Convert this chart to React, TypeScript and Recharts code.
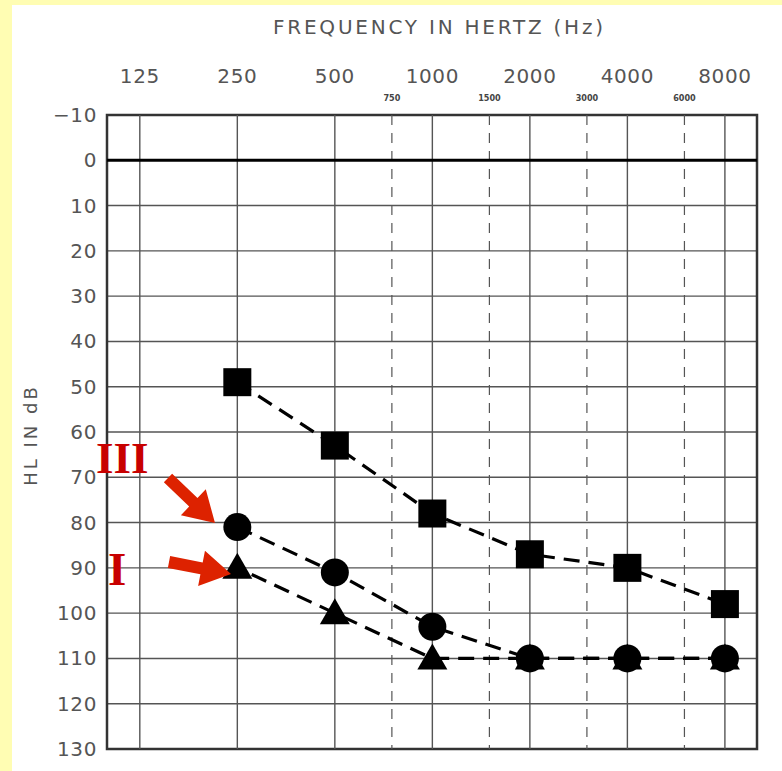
import React from "react";
import {
  LineChart,
  Line,
  XAxis,
  YAxis,
  CartesianGrid,
  ReferenceLine,
  ReferenceArea,
} from "recharts";

// audiogram values (dB HL)
const frequencies = [250, 500, 1000, 2000, 4000, 8000];
const squareValues = [49, 63, 78, 87, 90, 98];
const circleValues = [81, 91, 103, 110, 110, 110];
const triangleValues = [90, 100, 110, 110, 110, 110];

const octaveTicks = [125, 250, 500, 1000, 2000, 4000, 8000];
const halfOctaveTicks = [750, 1500, 3000, 6000];
const dbTicks = [-10, 0, 10, 20, 30, 40, 50, 60, 70, 80, 90, 100, 110, 120, 130];

const data = frequencies.map((f, i) => ({
  freq: f,
  square: squareValues[i],
  circle: circleValues[i],
  triangle: triangleValues[i],
}));

const X_MIN = 99;
const X_MAX = 10050;
const PLOT_W = 650;
const PLOT_H = 634;
const TXT = "#555";
const FONT = "'DejaVu Sans', sans-serif";
const DASH = [16, 9];

// the triangle and circle lines overlap from 2000 Hz on; shift the triangle's
// dash phase so both dash patterns coincide there instead of looking solid
function pathLength(vals: number[], upTo: number) {
  const pxOct = PLOT_W / Math.log2(X_MAX / X_MIN);
  const pxDb = PLOT_H / 140;
  let s = 0;
  for (let i = 1; i <= upTo; i++) {
    const dx = Math.log2(frequencies[i] / frequencies[i - 1]) * pxOct;
    const dy = (vals[i] - vals[i - 1]) * pxDb;
    s += Math.sqrt(dx * dx + dy * dy);
  }
  return s;
}
const joinIdx = 3;
const period = DASH[0] + DASH[1];
const triOffset =
  (((pathLength(circleValues, joinIdx) - pathLength(triangleValues, joinIdx)) % period) + period) % period;

const SquareDot = (p: any) => (
  <rect key={p.key} x={p.cx - 14} y={p.cy - 14} width={28} height={28} fill="#000" />
);
const CircleDot = (p: any) => (
  <circle key={p.key} cx={p.cx} cy={p.cy} r={14} fill="#000" />
);
const TriangleDot = (p: any) => (
  <polygon
    key={p.key}
    points={`${p.cx},${p.cy - 15} ${p.cx + 15},${p.cy + 11} ${p.cx - 15},${p.cy + 11}`}
    fill="#000"
  />
);

const FreqTick = (p: any) => {
  const v = p.payload.value;
  const small = halfOctaveTicks.includes(v);
  return (
    <text
      x={p.x}
      y={small ? 101 : 83}
      textAnchor="middle"
      fill={small ? "#444" : TXT}
      fontFamily={small ? "'DejaVu Sans Condensed', sans-serif" : FONT}
      fontWeight={small ? "bold" : "normal"}
      fontSize={small ? 9 : 20}
      letterSpacing={small ? 0 : 0.6}
    >
      {v}
    </text>
  );
};

const DbTick = (p: any) => (
  <text x={97} y={p.y + 7} textAnchor="end" fill={TXT} fontFamily={FONT} fontSize={20} letterSpacing={0.6}>
    {p.payload.value < 0 ? "\u2212" + Math.abs(p.payload.value) : p.payload.value}
  </text>
);

function arrow(x1: number, y1: number, x2: number, y2: number) {
  const dx = x2 - x1;
  const dy = y2 - y1;
  const len = Math.sqrt(dx * dx + dy * dy);
  const ux = dx / len;
  const uy = dy / len;
  const nx = -uy;
  const ny = ux;
  const head = 30;
  const hw = 18;
  const sw = 6;
  const bx = x2 - ux * head;
  const by = y2 - uy * head;
  const pts = [
    [x1 + nx * sw, y1 + ny * sw],
    [bx + nx * sw, by + ny * sw],
    [bx + nx * hw, by + ny * hw],
    [x2, y2],
    [bx - nx * hw, by - ny * hw],
    [bx - nx * sw, by - ny * sw],
    [x1 - nx * sw, y1 - ny * sw],
  ];
  return pts.map((q) => q.join(",")).join(" ");
}

export default function App() {
  return (
    <div
      style={{
        position: "absolute",
        left: 0,
        top: 0,
        width: 782,
        height: 771,
        background: "#FFFDB3",
      }}
    >
      <div
        style={{
          position: "absolute",
          left: 12,
          top: 5,
          width: 770,
          height: 766,
          background: "#fff",
        }}
      />
      <div style={{ position: "absolute", left: 0, top: 0 }}>
        <LineChart
          width={782}
          height={771}
          data={data}
          margin={{ top: 0, right: 25, bottom: 22, left: 0 }}
        >
          <XAxis
            dataKey="freq"
            type="number"
            scale="log"
            domain={[X_MIN, X_MAX]}
            allowDataOverflow
            orientation="top"
            height={115}
            ticks={[...octaveTicks, ...halfOctaveTicks]}
            tick={<FreqTick />}
            tickLine={false}
            axisLine={false}
            interval={0}
          />
          <YAxis
            type="number"
            domain={[-10, 130]}
            reversed
            ticks={dbTicks}
            width={107}
            tick={<DbTick />}
            tickLine={false}
            axisLine={false}
            interval={0}
          />
          <CartesianGrid vertical={false} stroke="#555" strokeWidth={1.4} />
          {octaveTicks.map((f) => (
            <ReferenceLine key={f} x={f} stroke="#555" strokeWidth={1.4} />
          ))}
          {halfOctaveTicks.map((f) => (
            <ReferenceLine key={f} x={f} stroke="#555" strokeWidth={1.2} strokeDasharray="10 8" />
          ))}
          <ReferenceLine y={0} stroke="#000" strokeWidth={3} />
          <ReferenceArea
            x1={X_MIN}
            x2={X_MAX}
            y1={-10}
            y2={130}
            fill="none"
            fillOpacity={0}
            stroke="#333"
            strokeWidth={2.5}
          />
          <Line
            dataKey="triangle"
            stroke="#000"
            strokeWidth={3.2}
            strokeDasharray={DASH.join(" ")}
            strokeDashoffset={triOffset}
            dot={TriangleDot}
            activeDot={false}
            isAnimationActive={false}
          />
          <Line
            dataKey="circle"
            stroke="#000"
            strokeWidth={3.2}
            strokeDasharray={DASH.join(" ")}
            dot={CircleDot}
            activeDot={false}
            isAnimationActive={false}
          />
          <Line
            dataKey="square"
            stroke="#000"
            strokeWidth={3.2}
            strokeDasharray={DASH.join(" ")}
            dot={SquareDot}
            activeDot={false}
            isAnimationActive={false}
          />
        </LineChart>
      </div>
      <svg
        width={782}
        height={771}
        style={{ position: "absolute", left: 0, top: 0, pointerEvents: "none" }}
      >
        <text
          x={273}
          y={34}
          fill={TXT}
          fontFamily={FONT}
          fontSize={20}
          textLength={330}
          lengthAdjust="spacing"
        >
          FREQUENCY IN HERTZ (Hz)
        </text>
        <text
          transform="translate(37,435) rotate(-90)"
          textAnchor="middle"
          fill={TXT}
          fontFamily={FONT}
          fontSize={18}
          letterSpacing={3}
        >
          HL IN dB
        </text>
        <text x={96} y={473} fill="#C80000" fontFamily="'Liberation Serif', serif" fontWeight="bold" fontSize={45}>
          III
        </text>
        <text x={108} y={585} fill="#C80000" fontFamily="'Liberation Serif', serif" fontWeight="bold" fontSize={47}>
          I
        </text>
        <polygon points={arrow(168, 478, 215, 523)} fill="#DD2200" />
        <polygon points={arrow(169, 562, 231, 574)} fill="#DD2200" />
      </svg>
    </div>
  );
}
